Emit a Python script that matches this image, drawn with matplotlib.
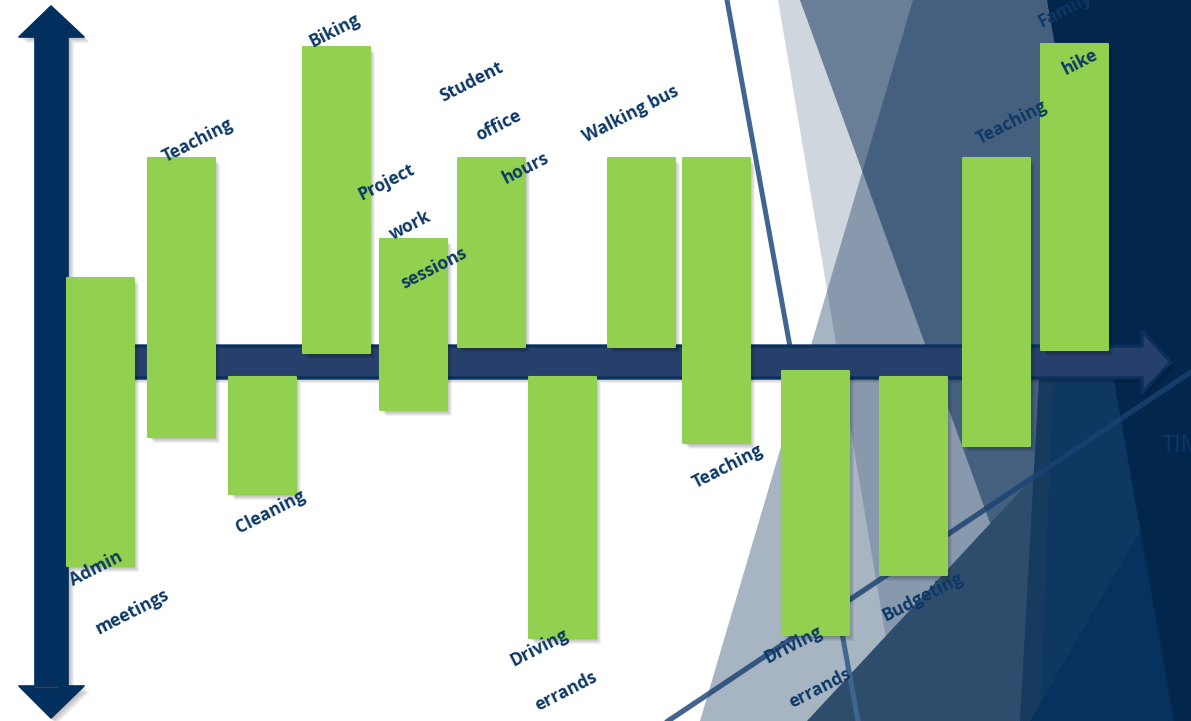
import matplotlib
matplotlib.use("Agg")
import matplotlib.pyplot as plt
from matplotlib.patches import Rectangle, Polygon
import matplotlib.transforms as mtransforms
from matplotlib.lines import Line2D

# ---------------- data ----------------
activities = ["Admin\nmeetings", "Teaching", "Cleaning", "Biking",
              "Project\nwork\nsessions", "Student\noffice\nhours",
              "Driving\nerrands", "Walking bus", "Teaching",
              "Driving\nerrands", "Budgeting", "Teaching", "Family\nhike"]
start_time = [6.7, 14.8, 22.9, 30.3, 38.0, 45.8, 52.9, 60.8, 68.3,
              78.2, 88.0, 96.3, 104.1]
duration = [6.65] * 13
value_top = [2.8, 6.8, -0.5, 10.5, 4.1, 6.8, -0.5, 6.8, 6.8,
             -0.3, -0.5, 6.8, 10.6]
value_bottom = [-6.8, -2.5, -4.4, 0.3, -1.6, 0.5, -9.2, 0.5, -2.7,
                -9.1, -7.1, -2.8, 0.4]
axis_label = "TIME"

# ---------------- layout / style ----------------
W, H = 1191, 721
label_side = ["bottom", "top", "bottom", "top", "top", "top", "bottom",
              "top", "bottom", "bottom", "bottom", "top", "top"]
label_offset = [(-4, 3), (16, -17), (8, 18), (-2, -16), (-27, -57),
                (-20, -76), (-23, 10), (-11, -44), (11, 24), (-22, 10),
                (10, 22), (15, -35), (-9, -34)]
label_step = [(36, 43), (27, 43), (27, 43), (27, 43), (24, 43),
              (27, 43), (27, 43), (27, 43), (27, 43), (27, 43),
              (27, 43), (27, 43), (15, 52)]
GREEN = "#92d050"
NAVY = "#042852"
TEXT = "#0c3866"
FONT = "Open Sans"

fig = plt.figure(figsize=(W / 100, H / 100), dpi=100)
ax = fig.add_axes([0, 0, 1, 1])
ax.set_xlim(0, 119.1)
ax.set_ylim(-11.97, 12.07)
ax.axis("off")

# pixel-space transform (x right, y down) for decoration
PX = mtransforms.Affine2D().scale(1 / W, -1 / H).translate(0, 1) + fig.transFigure


def poly(pts, **kw):
    p = Polygon(pts, closed=True, transform=PX, clip_on=False, **kw)
    ax.add_patch(p)
    return p


# ---------------- background facets ----------------
poly([(778, 0), (1191, 0), (1191, 721), (900, 721)], facecolor=NAVY, alpha=0.19, lw=0, zorder=0)
poly([(913, 0), (1191, 0), (1191, 721), (700, 721)], facecolor=NAVY, alpha=0.35, lw=0, zorder=0)
poly([(800, 0), (1191, 0), (1191, 721), (1062, 721)], facecolor=NAVY, alpha=0.5, lw=0, zorder=0)
poly([(807, 721), (1191, 307), (1191, 721)], facecolor="#2e4d6d", lw=0, zorder=0.1)
poly([(1080, 0), (1191, 0), (1191, 721), (1020, 721)], facecolor="#0e3762", lw=0, zorder=0.2)
poly([(1020, 721), (1040, 721), (1068, 0), (1060, 0)], facecolor="#173a5f", lw=0, zorder=0.25)
poly([(1030, 721), (1191, 443), (1191, 721)], facecolor="#07325e", lw=0, zorder=0.3)
poly([(1047, 0), (1191, 0), (1191, 721), (1174, 721)], facecolor="#03264c", lw=0, zorder=0.4)

# thin accent lines
ax.add_line(Line2D([727, 858], [0, 721], transform=PX, color="#3f6690", lw=3.6, zorder=0.6, clip_on=False))
ax.add_line(Line2D([668, 1191], [721, 372], transform=PX, color="#1a4272", lw=3.8, alpha=0.82, zorder=0.6, clip_on=False))

# axis label (mostly cut off at the edge, as in the original)
ax.text(1162, 452, axis_label, transform=PX, fontsize=17, family=FONT,
        color="#0d3868", ha="left", va="baseline", zorder=0.7, clip_on=False)

# ---------------- horizontal (time) arrow ----------------
harrow = [(60, 346), (1142, 346), (1142, 331), (1171, 362), (1142, 393),
          (1142, 378), (60, 378)]
for k in range(4):
    sh = mtransforms.offset_copy(PX, fig=fig, x=1 + k, y=-(2 + k), units="dots")
    ax.add_patch(Polygon(harrow, closed=True, transform=sh, facecolor="black",
                         alpha=0.06, lw=0, zorder=1.0, clip_on=False))
poly(harrow, facecolor="#27406b", edgecolor="#09305f", lw=2.4, joinstyle="round", zorder=1.2)

# ---------------- vertical arrow ----------------
varrow = [(51, 6), (84, 37), (68, 37), (68, 686), (84, 686), (51, 718),
          (19, 686), (35, 686), (35, 37), (19, 37)]
for k in range(5):
    sh = mtransforms.offset_copy(PX, fig=fig, x=2 + k, y=-(2 + k), units="dots")
    ax.add_patch(Polygon(varrow, closed=True, transform=sh, facecolor="black",
                         alpha=0.05, lw=0, zorder=1.5, clip_on=False))
poly(varrow, facecolor="#012f5e", edgecolor="#012f5e", lw=1.2, joinstyle="round", zorder=1.6)
ax.add_line(Line2D([35, 57], [687, 687], transform=PX, color="#e00000", lw=0.8, zorder=1.7, clip_on=False))

# ---------------- bars ----------------
for i in range(len(activities)):
    x0 = start_time[i]
    w = duration[i]
    y0 = value_bottom[i]
    h = value_top[i] - value_bottom[i]
    for k in range(6):
        sh = mtransforms.offset_copy(ax.transData, fig=fig, x=1 + 0.9 * k,
                                     y=-(1.5 + 0.9 * k), units="dots")
        ax.add_patch(Rectangle((x0, y0), w, h, transform=sh, facecolor="black",
                               alpha=0.055, lw=0, zorder=2))
    ax.add_patch(Rectangle((x0, y0), w, h, facecolor=GREEN, edgecolor=GREEN,
                           lw=1.5, joinstyle="round", zorder=3))

# ---------------- labels ----------------
for i, lab in enumerate(activities):
    xc = start_time[i] + duration[i] / 2
    yend = value_top[i] if label_side[i] == "top" else value_bottom[i]
    dx, dy = label_offset[i]
    sx, sy = label_step[i]
    for j, word in enumerate(lab.split("\n")):
        ax.annotate(word, xy=(xc, yend), xycoords="data",
                    xytext=(dx + j * sx, -(dy + j * sy)),
                    textcoords="offset pixels", ha="center", va="center",
                    rotation=27, rotation_mode="anchor", fontsize=12.5,
                    fontweight="bold", family=FONT, color=TEXT, zorder=4,
                    annotation_clip=False)

fig.savefig("out.png", dpi=100)
